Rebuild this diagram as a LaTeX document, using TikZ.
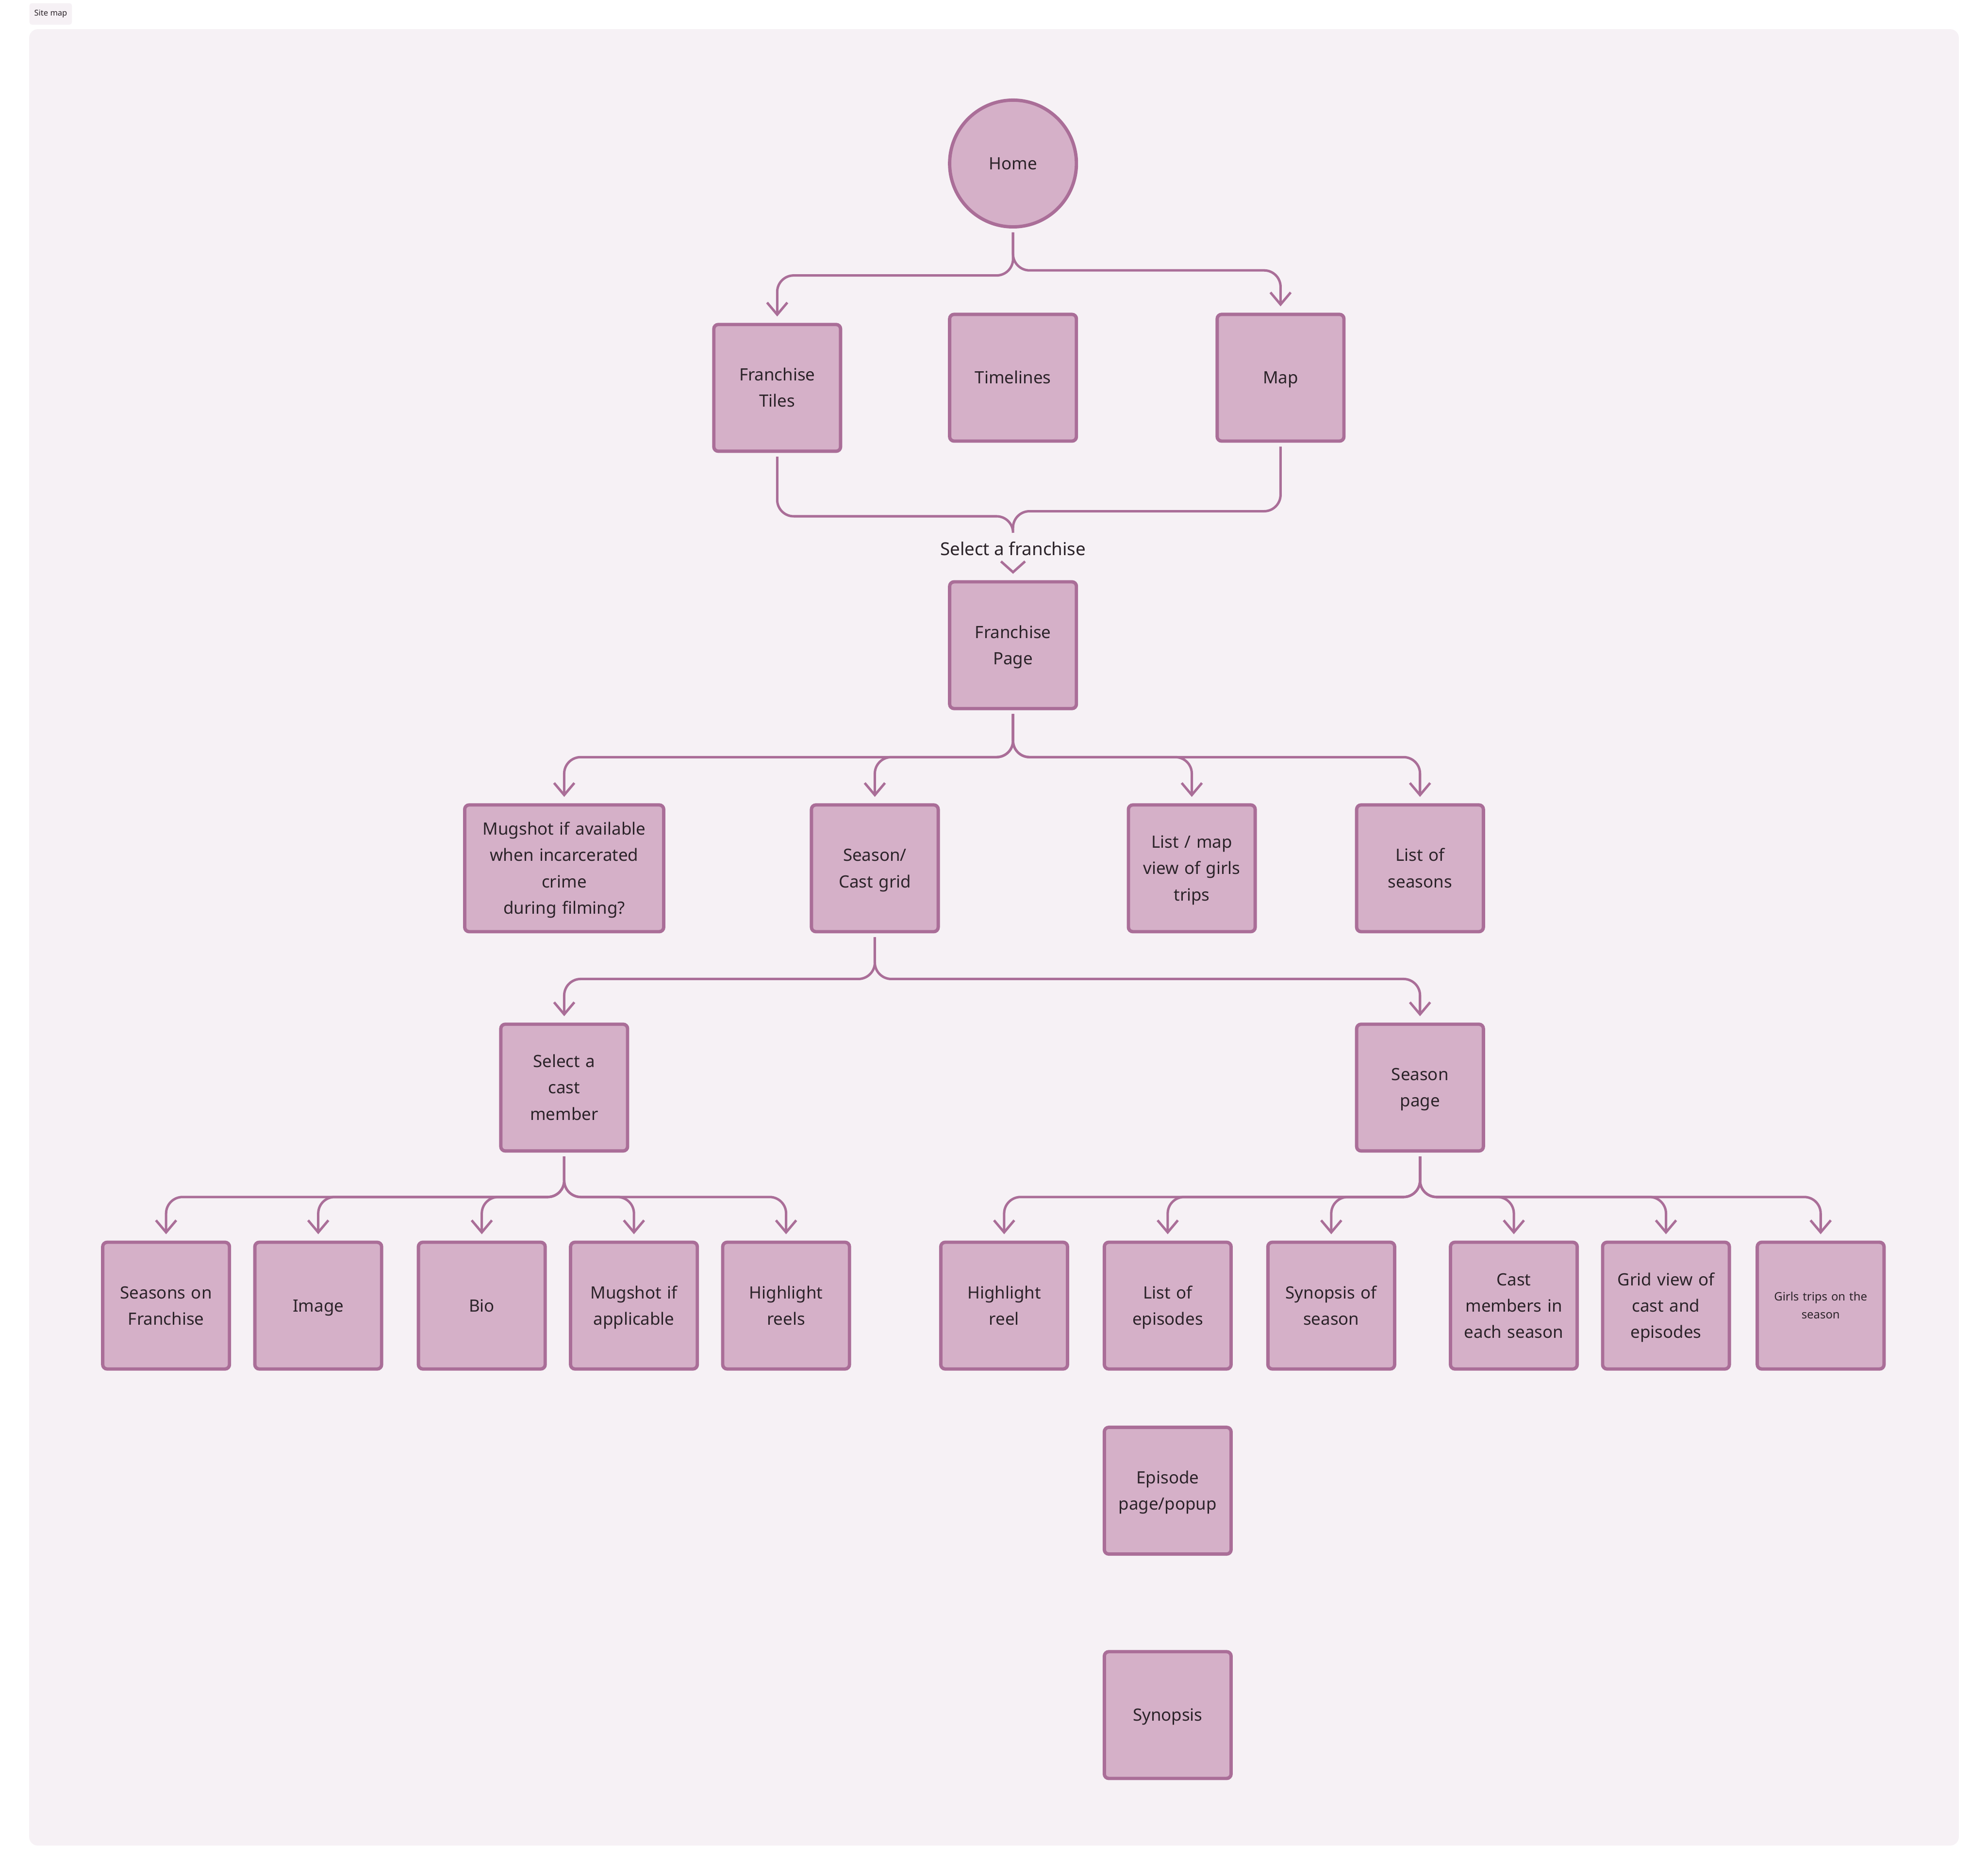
\documentclass[tikz,border=0pt]{standalone}
\usepackage{fontspec}
\setmainfont{Noto Sans}
\usepackage{xcolor}
\usetikzlibrary{arrows.meta}
\definecolor{boxfill}{HTML}{D5B0C8}
\definecolor{boxline}{HTML}{AA6E98}
\definecolor{panel}{HTML}{F6F1F5}
\definecolor{ink}{HTML}{2B2329}
\newcommand\pagestrut{\rule[-0.41em]{0pt}{1.54em}}

\begin{document}
\begin{tikzpicture}[x=0.02cm, y=-0.02cm,
  page/.style={draw=boxline, fill=boxfill, line width=1.5pt, rounded corners=0.07cm,
    minimum width=2cm, minimum height=2cm, inner sep=0pt, text width=1.9cm, align=center, text=ink,
    font=\fontsize{7.6}{11.8}\selectfont,
    execute at begin node=\pagestrut, execute at end node=\pagestrut},
  link/.style={draw=boxline, line width=1.1pt, rounded corners=0.26cm,
    -{Straight Barb[length=0.19cm, width=0.32cm]}, shorten >=0.1cm, shorten <=0.06cm}]
  \fill[white] (0,0) rectangle (1568,1479);
  \fill[panel, rounded corners=0.14cm] (23,23) rectangle (1545,1456);
  \node[fill=panel, rounded corners=0.04cm, minimum width=0.67cm, minimum height=0.34cm, inner sep=0pt,
    text=ink, font=\fontsize{3.6}{4.3}\selectfont] (title) at (40,11) {Site map};

  \node[page, circle, text width=1.5cm] (home) at (799,129) {Home};
  \node[page] (tiles) at (613,306) {Franchise\\Tiles};
  \node[page] (timelines) at (799,298) {Timelines};
  \node[page] (map) at (1010,298) {Map};
  \coordinate (join) at (799,418);
  \node[text=ink, font=\fontsize{8}{10}\selectfont] (select) at (799,433) {Select a franchise};
  \node[page] (fpage) at (799,509) {Franchise\\Page};

  \node[page, minimum width=3.14cm, text width=3cm] (mugshot) at (445,685) {Mugshot if available\\when incarcerated\\crime\\during filming?};
  \node[page] (grid) at (690,685) {Season/\\Cast grid};
  \node[page] (trips) at (940,685) {List / map\\view of girls\\trips};
  \node[page] (seasons) at (1120,685) {List of\\seasons};
  \node[page] (cast) at (445,858) {Select a\\cast\\member};
  \node[page] (season) at (1120,858) {Season\\page};

  \node[page] (onfr) at (131,1030) {Seasons on\\Franchise};
  \node[page] (image) at (251,1030) {Image};
  \node[page] (bio) at (380,1030) {Bio};
  \node[page] (mugapp) at (500,1030) {Mugshot if\\applicable};
  \node[page] (reels) at (620,1030) {Highlight\\reels};
  \node[page] (reel) at (792,1030) {Highlight\\reel};
  \node[page] (episodes) at (921,1030) {List of\\episodes};
  \node[page] (synseason) at (1050,1030) {Synopsis of\\season};
  \node[page] (members) at (1194,1030) {Cast\\members in\\each season};
  \node[page] (gridview) at (1314,1030) {Grid view of\\cast and\\episodes};
  \node[page, font=\fontsize{5.2}{8.1}\selectfont] (girls) at (1436,1030) {Girls trips on the\\season};
  \node[page] (episode) at (921,1176) {Episode\\page/popup};
  \node[page] (synopsis) at (921,1353) {Synopsis};

  \draw[link] (home.south) -- ++(0,37) -| (tiles.north);
  \draw[link] (home.south) -- ++(0,33) -| (map.north);
  \draw[link, -, shorten >=0pt] (tiles.south) -- ++(0,50) -| (join);
  \draw[link, -, shorten >=0pt] (map.south) -- ++(0,54) -| (join);
  \draw[link, -{Straight Barb[length=0.17cm, width=0.38cm]}, shorten <=0.12cm] (select.south) -- (fpage.north);

  \draw[link] (fpage.south) -- ++(0,37) -| (mugshot.north);
  \draw[link] (fpage.south) -- ++(0,37) -| (grid.north);
  \draw[link] (fpage.south) -- ++(0,37) -| (trips.north);
  \draw[link] (fpage.south) -- ++(0,37) -| (seasons.north);
  \draw[link] (grid.south) -- ++(0,36) -| (cast.north);
  \draw[link] (grid.south) -- ++(0,36) -| (season.north);

  \draw[link] (cast.south) -- ++(0,35) -| (onfr.north);
  \draw[link] (cast.south) -- ++(0,35) -| (image.north);
  \draw[link] (cast.south) -- ++(0,35) -| (bio.north);
  \draw[link] (cast.south) -- ++(0,35) -| (mugapp.north);
  \draw[link] (cast.south) -- ++(0,35) -| (reels.north);
  \draw[link] (season.south) -- ++(0,35) -| (reel.north);
  \draw[link] (season.south) -- ++(0,35) -| (episodes.north);
  \draw[link] (season.south) -- ++(0,35) -| (synseason.north);
  \draw[link] (season.south) -- ++(0,35) -| (members.north);
  \draw[link] (season.south) -- ++(0,35) -| (gridview.north);
  \draw[link] (season.south) -- ++(0,35) -| (girls.north);
\end{tikzpicture}
\end{document}
